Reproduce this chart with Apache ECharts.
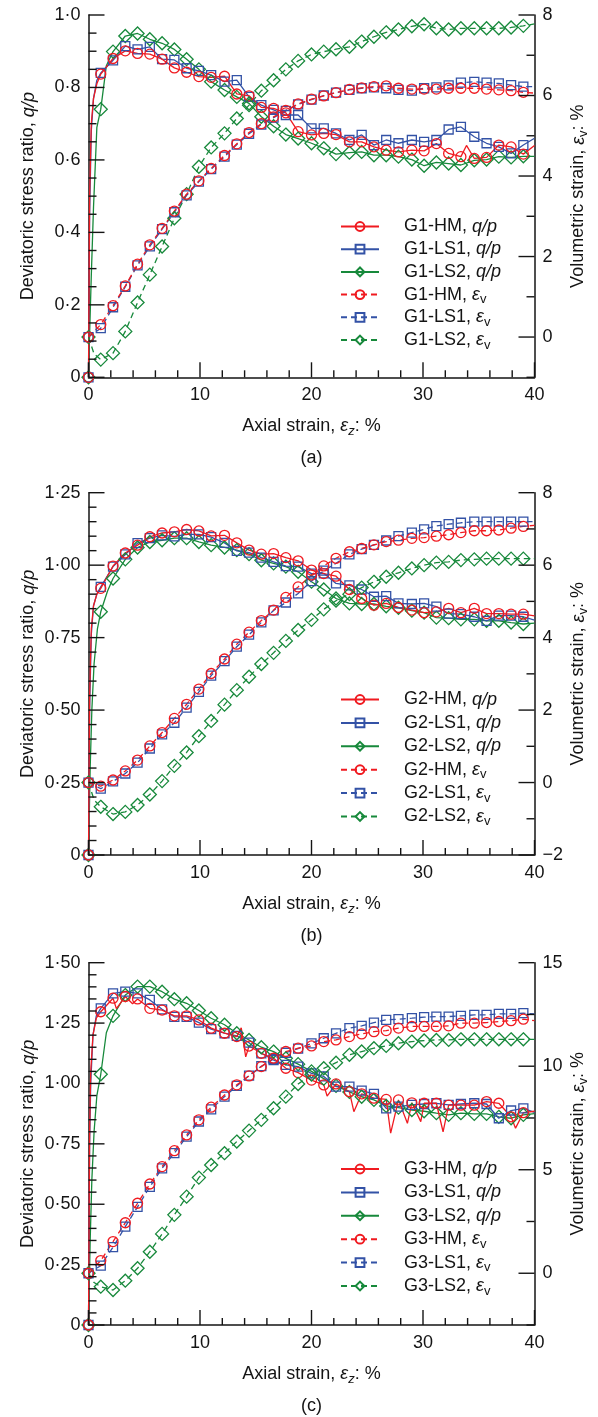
<!DOCTYPE html>
<html><head><meta charset="utf-8">
<script src="https://cdn.jsdelivr.net/npm/echarts@6/dist/echarts.min.js"></script>
<style>html,body{margin:0;padding:0;background:#fff}#c{width:598px;height:1417px}</style>
</head><body><div id="c"></div>
<script>
// ---------- shared x positions of markers (axial strain, %) ----------
const X_MARK = [0,1.1,2.2,3.3,4.4,5.5,6.6,7.7,8.8,9.9,11.0,12.2,13.3,14.4,15.5,16.6,17.7,18.8,20.0,21.1,22.2,23.4,24.5,25.6,26.7,27.8,29.0,30.1,31.2,32.3,33.4,34.6,35.7,36.8,37.9,39.0];
const X_TICKS = [0,10,20,30,40];

// ---------- panel (a) ----------
const A_Q_TICKS = [0,0.2,0.4,0.6,0.8,1.0];
const A_E_TICKS = [0,2,4,6,8];
const G1_HM_QP  = [0,0.837,0.880,0.901,0.894,0.892,0.878,0.854,0.842,0.830,0.828,0.831,0.782,0.777,0.745,0.742,0.730,0.678,0.669,0.673,0.670,0.650,0.650,0.636,0.627,0.622,0.627,0.625,0.645,0.618,0.609,0.604,0.607,0.641,0.636,0.616];
const G1_HM_QP_EXTRA  = [[0.1,0.50],[0.25,0.70],[0.45,0.77],[0.75,0.81],[33.9,0.64],[40,0.64]];
const G1_LS1_QP = [0,0.840,0.875,0.914,0.905,0.912,0.878,0.876,0.853,0.846,0.834,0.816,0.820,0.774,0.751,0.738,0.724,0.724,0.687,0.687,0.673,0.655,0.669,0.641,0.655,0.646,0.655,0.650,0.655,0.684,0.691,0.664,0.646,0.636,0.618,0.641];
const G1_LS1_QP_EXTRA = [[0.1,0.45],[0.25,0.68],[0.45,0.77],[0.75,0.82],[40,0.66]];
const G1_LS2_QP = [0,0.740,0.899,0.942,0.949,0.933,0.922,0.905,0.878,0.850,0.816,0.793,0.774,0.756,0.719,0.693,0.670,0.659,0.646,0.632,0.616,0.620,0.622,0.613,0.613,0.609,0.601,0.584,0.593,0.590,0.586,0.599,0.601,0.609,0.607,0.610];
const G1_LS2_QP_EXTRA = [[0.1,0.12],[0.25,0.28],[0.45,0.47],[0.75,0.69],[1.6,0.86],[40,0.61]];
const G1_HM_EV  = [0,0.31,0.78,1.27,1.81,2.29,2.70,3.13,3.55,3.88,4.19,4.51,4.80,5.08,5.30,5.47,5.63,5.79,5.91,5.99,6.07,6.15,6.19,6.22,6.24,6.18,6.16,6.16,6.16,6.18,6.18,6.18,6.16,6.14,6.12,6.08];
const G1_HM_EV_EXTRA  = [[40,6.06]];
const G1_LS1_EV = [0,0.22,0.74,1.25,1.78,2.25,2.68,3.10,3.52,3.86,4.17,4.48,4.78,5.05,5.28,5.45,5.62,5.78,5.90,6.00,6.07,6.14,6.18,6.20,6.18,6.14,6.12,6.18,6.20,6.25,6.32,6.34,6.32,6.30,6.26,6.22];
const G1_LS1_EV_EXTRA = [[40,6.22]];
const G1_LS2_EV = [0,-0.56,-0.40,0.14,0.86,1.55,2.25,2.95,3.55,4.23,4.71,5.06,5.43,5.76,6.12,6.38,6.65,6.86,7.02,7.09,7.15,7.21,7.34,7.46,7.57,7.64,7.72,7.77,7.67,7.64,7.67,7.67,7.67,7.67,7.69,7.73];
const G1_LS2_EV_EXTRA = [[0.5,-0.42],[40,7.78]];

// ---------- panel (b) ----------
const B_Q_TICKS = [0,0.25,0.5,0.75,1.0,1.25];
const B_E_TICKS = [-2,0,2,4,6,8];
const G2_HM_QP  = [0,0.920,0.997,1.042,1.069,1.098,1.111,1.115,1.123,1.118,1.101,1.103,1.077,1.052,1.038,1.040,1.026,1.015,0.983,0.971,0.962,0.916,0.885,0.862,0.868,0.854,0.845,0.836,0.839,0.851,0.836,0.851,0.833,0.833,0.831,0.831];
const G2_HM_QP_EXTRA  = [[0.1,0.55],[0.25,0.78],[0.45,0.86],[0.75,0.90],[40,0.825]];
const G2_LS1_QP = [0,0.925,0.995,1.037,1.076,1.093,1.103,1.099,1.106,1.106,1.097,1.077,1.049,1.043,1.026,1.011,0.997,0.995,0.971,0.972,0.937,0.930,0.916,0.891,0.893,0.868,0.866,0.868,0.857,0.833,0.831,0.822,0.808,0.826,0.826,0.822];
const G2_LS1_QP_EXTRA = [[0.1,0.50],[0.25,0.76],[0.45,0.86],[0.75,0.90],[40,0.81]];
const G2_LS2_QP = [0,0.839,0.954,1.020,1.061,1.080,1.086,1.093,1.093,1.080,1.069,1.061,1.052,1.038,1.017,1.006,0.995,0.977,0.943,0.916,0.885,0.868,0.866,0.866,0.858,0.853,0.843,0.836,0.819,0.817,0.813,0.813,0.808,0.808,0.802,0.797];
const G2_LS2_QP_EXTRA = [[0.15,0.30],[0.3,0.50],[0.5,0.66],[0.8,0.78],[1.7,0.91],[40,0.80]];
const G2_HM_EV  = [0,-0.10,0.07,0.32,0.62,1.01,1.38,1.77,2.16,2.58,3.01,3.41,3.82,4.15,4.47,4.76,5.11,5.40,5.73,5.98,6.19,6.37,6.46,6.56,6.65,6.69,6.74,6.76,6.80,6.84,6.90,6.95,6.95,6.97,7.02,7.07];
const G2_HM_EV_EXTRA  = [[40,7.10]];
const G2_LS1_EV = [0,-0.17,0.03,0.25,0.55,0.94,1.33,1.65,2.07,2.50,2.95,3.35,3.75,4.08,4.42,4.75,4.97,5.22,5.56,5.85,6.05,6.30,6.44,6.56,6.68,6.80,6.90,6.99,7.08,7.13,7.17,7.20,7.20,7.20,7.20,7.20];
const G2_LS1_EV_EXTRA = [[40,7.20]];
const G2_LS2_EV = [0,-0.67,-0.87,-0.81,-0.62,-0.33,0.04,0.46,0.83,1.28,1.70,2.15,2.55,2.92,3.27,3.58,3.91,4.21,4.49,4.78,5.02,5.20,5.38,5.54,5.68,5.79,5.91,6.00,6.07,6.09,6.14,6.16,6.18,6.18,6.18,6.18];
const G2_LS2_EV_EXTRA = [[0.5,-0.48],[40,6.18]];

// ---------- panel (c) ----------
const C_Q_TICKS = [0,0.25,0.5,0.75,1.0,1.25,1.5];
const C_E_TICKS = [0,5,10,15];
const G3_HM_QP  = [0,1.297,1.353,1.360,1.350,1.311,1.304,1.280,1.280,1.263,1.229,1.208,1.194,1.155,1.125,1.104,1.063,1.045,1.014,0.994,0.998,0.966,0.957,0.939,0.934,0.932,0.920,0.918,0.918,0.910,0.910,0.910,0.925,0.918,0.862,0.879];
const G3_HM_QP_EXTRA  = [[0.1,0.80],[0.2,1.05],[0.4,1.20],[0.7,1.27],[2.5,1.31],[3.95,1.33],[13.7,1.23],[14.1,1.11],[21.4,0.948],[23.8,0.883],[27.1,0.794],[28.6,0.835],[29.8,0.842],[31.8,0.800],[38.3,0.815],[40,0.885]];
const G3_LS1_QP = [0,1.311,1.373,1.380,1.373,1.346,1.307,1.276,1.276,1.252,1.225,1.208,1.197,1.169,1.125,1.097,1.077,1.070,1.042,1.029,0.987,0.987,0.970,0.957,0.897,0.904,0.911,0.915,0.918,0.911,0.915,0.918,0.915,0.856,0.888,0.897];
const G3_LS1_QP_EXTRA = [[0.1,0.75],[0.2,1.00],[0.4,1.20],[0.7,1.28],[40,0.88]];
const G3_LS2_QP = [0,1.038,1.280,1.366,1.401,1.401,1.380,1.349,1.332,1.302,1.270,1.243,1.208,1.180,1.150,1.132,1.104,1.080,1.050,1.020,0.990,0.965,0.945,0.932,0.907,0.900,0.890,0.885,0.877,0.870,0.877,0.874,0.874,0.862,0.856,0.870];
const G3_LS2_QP_EXTRA = [[0.15,0.35],[0.3,0.60],[0.5,0.80],[0.75,0.95],[1.6,1.21],[40,0.875]];
const G3_HM_EV  = [0,0.61,1.53,2.44,3.38,4.31,5.15,5.92,6.68,7.41,8.02,8.61,9.10,9.53,9.98,10.39,10.71,10.87,10.98,11.19,11.27,11.43,11.56,11.67,11.72,11.84,11.92,11.92,11.92,11.95,12.08,12.08,12.11,12.16,12.20,12.27];
const G3_HM_EV_EXTRA  = [[40,12.2]];
const G3_LS1_EV = [0,0.37,1.26,2.25,3.21,4.17,5.07,5.80,6.60,7.33,7.92,8.53,9.05,9.55,10.00,10.35,10.65,10.85,11.10,11.35,11.59,11.84,11.95,12.11,12.24,12.27,12.32,12.37,12.40,12.40,12.43,12.48,12.48,12.53,12.53,12.56];
const G3_LS1_EV_EXTRA = [[40,12.53]];
const G3_LS2_EV = [0,-0.65,-0.81,-0.36,0.24,1.04,1.90,2.82,3.70,4.62,5.23,5.80,6.36,6.89,7.41,7.97,8.53,9.14,9.60,9.90,10.17,10.55,10.71,10.87,10.98,11.11,11.19,11.24,11.27,11.27,11.30,11.30,11.30,11.30,11.30,11.30];
const G3_LS2_EV_EXTRA = [[0.5,-0.45],[40,11.3]];

// ---------- styling / layout ----------
const FONT = '"Liberation Sans", Arial, sans-serif';
const INK = '#141414';
const RED = '#f01a20', BLUE = '#3352a6', GREEN = '#17893b';
const STY = {
  HM:  {color: RED,   symbol: 'circle',  size: 10},
  LS1: {color: BLUE,  symbol: 'rect',    size: 9},
  LS2: {color: GREEN, symbol: 'diamond', size: 13}
};
const PANELS = [
  {g:'G1', tag:'(a)', top:15, qMax:1.0, qDec:1, qTicks:A_Q_TICKS, eMin:-1, eMax:8, eStep:1, eTicks:A_E_TICKS, legendTop:215, legendGap:-0.3,
   data:{HM:[G1_HM_QP,G1_HM_QP_EXTRA,G1_HM_EV,G1_HM_EV_EXTRA], LS1:[G1_LS1_QP,G1_LS1_QP_EXTRA,G1_LS1_EV,G1_LS1_EV_EXTRA], LS2:[G1_LS2_QP,G1_LS2_QP_EXTRA,G1_LS2_EV,G1_LS2_EV_EXTRA]}},
  {g:'G2', tag:'(b)', top:492.7, qMax:1.25, qDec:2, qTicks:B_Q_TICKS, eMin:-2, eMax:8, eStep:1, eTicks:B_E_TICKS, legendTop:688, legendGap:0.4,
   data:{HM:[G2_HM_QP,G2_HM_QP_EXTRA,G2_HM_EV,G2_HM_EV_EXTRA], LS1:[G2_LS1_QP,G2_LS1_QP_EXTRA,G2_LS1_EV,G2_LS1_EV_EXTRA], LS2:[G2_LS2_QP,G2_LS2_QP_EXTRA,G2_LS2_EV,G2_LS2_EV_EXTRA]}},
  {g:'G3', tag:'(c)', top:962.7, qMax:1.5, qDec:2, qTicks:C_Q_TICKS, eMin:-2.5, eMax:15, eStep:2.5, eTicks:C_E_TICKS, legendTop:1157.5, legendGap:0.4,
   data:{HM:[G3_HM_QP,G3_HM_QP_EXTRA,G3_HM_EV,G3_HM_EV_EXTRA], LS1:[G3_LS1_QP,G3_LS1_QP_EXTRA,G3_LS1_EV,G3_LS1_EV_EXTRA], LS2:[G3_LS2_QP,G3_LS2_QP_EXTRA,G3_LS2_EV,G3_LS2_EV_EXTRA]}}
];
const GRID_LEFT = 88.5, GRID_W = 446, GRID_H = 362.3;
const Q_MINOR = 0.05, X_MINOR = 2, X_MIN = 0, X_MAX = 40;
const TICK_LEN = {xMajor: 15, xMinor: 7, yMajor: 16, yMinor: 8};   // pixels
const TICK_W = 1.4;

const RICH = {
  n: {fontSize: 18, fontFamily: FONT, color: INK, lineHeight: 24},
  i: {fontSize: 18, fontFamily: FONT, color: INK, lineHeight: 24, fontStyle: 'italic'},
  s: {fontSize: 13, fontFamily: FONT, color: INK, lineHeight: 14, padding: [10,0,0,0]},
  si:{fontSize: 13, fontFamily: FONT, color: INK, lineHeight: 14, padding: [10,0,0,0], fontStyle: 'italic'},
  g: {width: 20, lineHeight: 24}
};

function near(list, v) { return list.some(m => Math.abs(m - v) < 1e-6); }
function stepValues(min, max, step) {
  const out = [], n = Math.round((max - min) / step);
  for (let k = 0; k <= n; k++) out.push(+(min + k * step).toFixed(6));
  return out;
}
function fmtQ(v, dec) { return Math.abs(v) < 1e-9 ? '0' : v.toFixed(dec).replace('.', '\u00b7'); }
function fmtE(v) { return v < 0 ? '\u2212' + Math.abs(v) : String(+v.toFixed(3)); }
function buildData(vals, extra) {
  const pts = X_MARK.map((x, i) => ({value: [x, vals[i]]}));
  (extra || []).forEach(([x, y]) => pts.push({value: [x, y], symbol: 'none'}));
  pts.sort((a, b) => a.value[0] - b.value[0]);
  return pts;
}
// inward tick marks as thin rectangular symbols placed on the axes through the scales
function tickScatter(name, xi, yi, pts, size, offset) {
  return {type: 'scatter', name, xAxisIndex: xi, yAxisIndex: yi, data: pts,
    symbol: 'rect', symbolSize: size, symbolOffset: offset,
    itemStyle: {color: INK, borderWidth: 0, opacity: 1},
    clip: false, silent: true, z: 5, animation: false, emphasis: {disabled: true}, tooltip: {show: false}};
}

const grid = [], xAxis = [], yAxis = [], series = [], legend = [], graphic = [];
const axisLine = {show: true, onZero: false, lineStyle: {color: INK, width: 1.5}};
PANELS.forEach((p, gi) => {
  grid.push({left: GRID_LEFT, top: p.top, width: GRID_W, height: GRID_H, containLabel: false, outerBoundsMode: 'none'});
  xAxis.push({type: 'value', gridIndex: gi, position: 'bottom', min: X_MIN, max: X_MAX, interval: X_MINOR,
    axisLine, splitLine: {show: false}, axisTick: {show: false},
    axisLabel: {show: true, margin: 9, fontSize: 18, fontFamily: FONT, color: INK, formatter: v => near(X_TICKS, v) ? String(v) : ''},
    name: '{n|Axial strain, }{i|\u03b5}{si|z}{n|: %}', nameLocation: 'middle', nameGap: 37, nameMoveOverlap: false,
    nameTextStyle: {rich: RICH}});
  yAxis.push({type: 'value', gridIndex: gi, position: 'left', min: 0, max: p.qMax, interval: Q_MINOR,
    axisLine, splitLine: {show: false}, axisTick: {show: false},
    axisLabel: {show: true, margin: 8, fontSize: 18, fontFamily: FONT, color: INK, formatter: v => near(p.qTicks, v) ? fmtQ(v, p.qDec) : ''},
    name: '{n|Deviatoric stress ratio, }{i|q/p}', nameLocation: 'middle', nameRotate: 90, nameGap: 48, nameMoveOverlap: false,
    nameTextStyle: {rich: RICH}});
  yAxis.push({type: 'value', gridIndex: gi, position: 'right', min: p.eMin, max: p.eMax, interval: p.eStep,
    axisLine, splitLine: {show: false}, axisTick: {show: false},
    axisLabel: {show: true, margin: 8, fontSize: 18, fontFamily: FONT, color: INK, formatter: v => near(p.eTicks, v) ? fmtE(v) : ''},
    name: '{n|Volumetric strain, }{i|\u03b5}{s|v}{n|: %}', nameLocation: 'middle', nameRotate: 90, nameGap: 32, nameMoveOverlap: false,
    nameTextStyle: {rich: RICH}});

  const names = [];
  ['HM', 'LS1', 'LS2'].forEach(k => names.push(p.g + '-' + k + ', q/p'));
  ['HM', 'LS1', 'LS2'].forEach(k => names.push(p.g + '-' + k + ', \u03b5v'));
  // draw order: green, blue, red (red on top)
  [false, true].forEach(isEv => {
    ['LS2', 'LS1', 'HM'].forEach(k => {
      const st = STY[k];
      const d = p.data[k];
      series.push({
        type: 'line', name: p.g + '-' + k + (isEv ? ', \u03b5v' : ', q/p'),
        xAxisIndex: gi, yAxisIndex: 2 * gi + (isEv ? 1 : 0),
        data: isEv ? buildData(d[2], d[3]) : buildData(d[0], d[1]),
        symbol: st.symbol, symbolSize: st.size, showSymbol: true, clip: false, smooth: false,
        lineStyle: {color: st.color, width: 1.3, type: isEv ? [6, 4] : 'solid'},
        itemStyle: {color: 'rgba(255,255,255,0)', borderColor: st.color, borderWidth: 1.3},
        emphasis: {disabled: true}, animation: false
      });
    });
  });

  // tick marks
  const xv = stepValues(X_MIN, X_MAX, X_MINOR);
  const qv = stepValues(0, p.qMax, Q_MINOR);
  const ev = stepValues(p.eMin, p.eMax, p.eStep);
  const L = TICK_LEN;
  series.push(tickScatter('_xM' + gi, gi, 2 * gi, xv.filter(v => near(X_TICKS, v)).map(v => [v, 0]), [TICK_W, L.xMajor], [0, -L.xMajor / 2]));
  series.push(tickScatter('_xm' + gi, gi, 2 * gi, xv.filter(v => !near(X_TICKS, v)).map(v => [v, 0]), [TICK_W, L.xMinor], [0, -L.xMinor / 2]));
  series.push(tickScatter('_lM' + gi, gi, 2 * gi, qv.filter(v => near(p.qTicks, v)).map(v => [X_MIN, v]), [L.yMajor, TICK_W], [L.yMajor / 2, 0]));
  series.push(tickScatter('_lm' + gi, gi, 2 * gi, qv.filter(v => !near(p.qTicks, v)).map(v => [X_MIN, v]), [L.yMinor, TICK_W], [L.yMinor / 2, 0]));
  series.push(tickScatter('_rM' + gi, gi, 2 * gi + 1, ev.filter(v => near(p.eTicks, v)).map(v => [X_MAX, v]), [L.yMajor, TICK_W], [-L.yMajor / 2, 0]));
  series.push(tickScatter('_rm' + gi, gi, 2 * gi + 1, ev.filter(v => !near(p.eTicks, v)).map(v => [X_MAX, v]), [L.yMinor, TICK_W], [-L.yMinor / 2, 0]));

  legend.push({data: names, orient: 'vertical', left: 340, top: p.legendTop, padding: 0,
    itemWidth: 38, itemHeight: 11, itemGap: p.legendGap, selectedMode: false,
    textStyle: {fontSize: 18, fontFamily: FONT, color: INK, rich: RICH},
    formatter: nm => {
      const [a, b] = nm.split(', ');
      return '{g| }{n|' + a + ', }' + (b === 'q/p' ? '{i|q/p}{s| }' : '{i|\u03b5}{s|v}');
    }});
  graphic.push({type: 'text', x: GRID_LEFT + GRID_W / 2, y: p.top + GRID_H + 81,
    style: {text: p.tag, align: 'center', verticalAlign: 'middle', font: '18px ' + FONT, fill: INK}});
});

const chart = echarts.init(document.getElementById('c'), null, {renderer: 'canvas'});
chart.setOption({
  animation: false, backgroundColor: '#fff',
  textStyle: {fontFamily: FONT},
  grid, xAxis, yAxis, series, legend, graphic
});
</script></body></html>
